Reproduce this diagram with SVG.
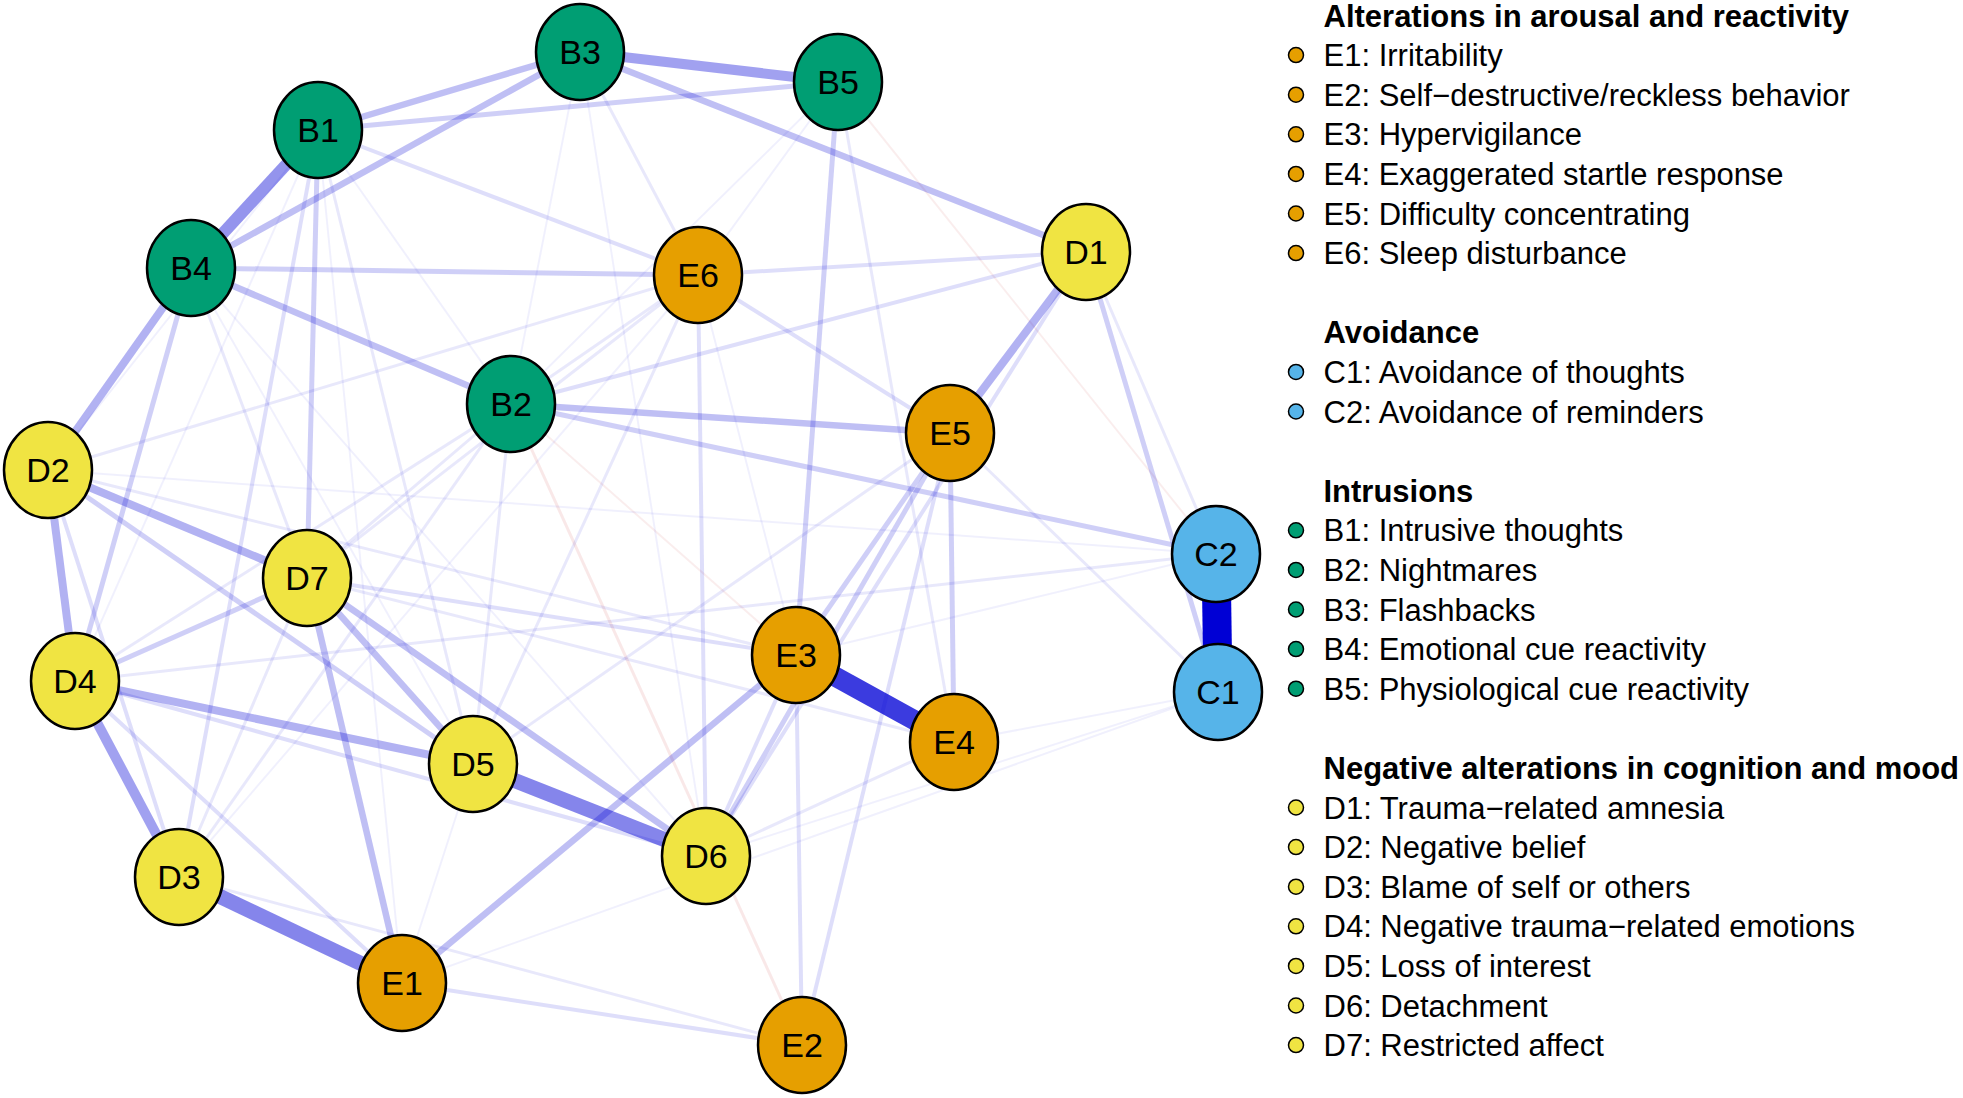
<svg xmlns="http://www.w3.org/2000/svg" width="1963" height="1098" viewBox="0 0 1963 1098">
<style>
.edges line{stroke:#0000D5;fill:none}
.edges line.n{stroke:#BF0000}
.e1{stroke-width:29;stroke-opacity:1}
.e2{stroke-width:20;stroke-opacity:.77}
.e3{stroke-width:15;stroke-opacity:.48}
.e4{stroke-width:12;stroke-opacity:.42}
.e5{stroke-width:10;stroke-opacity:.37}
.e6{stroke-width:8;stroke-opacity:.30}
.e7{stroke-width:6.5;stroke-opacity:.25}
.e8{stroke-width:5;stroke-opacity:.19}
.e9{stroke-width:4;stroke-opacity:.13}
.e10{stroke-width:3;stroke-opacity:.09}
.e11{stroke-width:2;stroke-opacity:.06}
.n1{stroke-width:3;stroke-opacity:.09}
.n2{stroke-width:2;stroke-opacity:.07}
.node ellipse{stroke:#000;stroke-width:2.5}
.node text{font-family:"Liberation Sans",Arial,sans-serif;font-size:34px;text-anchor:middle;fill:#000}
.B{fill:#009E73}.C{fill:#56B4E9}.D{fill:#F0E442}.E{fill:#E69F00}
.legend text{font-family:"Liberation Sans",Arial,sans-serif;font-size:31px;fill:#000}
.legend text.h{font-weight:bold}
.legend circle{stroke:#000;stroke-width:1.5}
</style>
<rect width="1963" height="1098" fill="#fff"/>
<g id="connectors" class="edges">
<line class="e11" x1="838" y1="82" x2="698" y2="275"/>
<line class="e11" x1="838" y1="82" x2="511" y2="404"/>
<line class="e11" x1="580" y1="52" x2="511" y2="404"/>
<line class="e11" x1="580" y1="52" x2="706" y2="856"/>
<line class="e11" x1="318" y1="130" x2="75" y2="681"/>
<line class="e11" x1="318" y1="130" x2="511" y2="404"/>
<line class="e11" x1="402" y1="983" x2="473" y2="764"/>
<line class="e11" x1="48" y1="470" x2="318" y2="130"/>
<line class="e11" x1="318" y1="130" x2="402" y2="983"/>
<line class="e11" x1="179" y1="877" x2="698" y2="275"/>
<line class="e11" x1="191" y1="268" x2="706" y2="856"/>
<line class="e11" x1="1216" y1="554" x2="796" y2="655"/>
<line class="e11" x1="1218" y1="692" x2="954" y2="742"/>
<line class="e11" x1="191" y1="268" x2="473" y2="764"/>
<line class="e11" x1="48" y1="470" x2="1216" y2="554"/>
<line class="e11" x1="698" y1="275" x2="796" y2="655"/>
<line class="e11" x1="1218" y1="692" x2="402" y2="983"/>
<line class="e11" x1="706" y1="856" x2="1218" y2="692"/>
<line class="n n2" x1="838" y1="82" x2="1216" y2="554"/>
<line class="n n2" x1="511" y1="404" x2="796" y2="655"/>
<line class="n n1" x1="511" y1="404" x2="802" y2="1045"/>
<line class="e10" x1="698" y1="275" x2="307" y2="578"/>
<line class="e10" x1="48" y1="470" x2="698" y2="275"/>
<line class="e10" x1="75" y1="681" x2="511" y2="404"/>
<line class="e10" x1="511" y1="404" x2="698" y2="275"/>
<line class="e10" x1="698" y1="275" x2="473" y2="764"/>
<line class="e10" x1="950" y1="433" x2="473" y2="764"/>
<line class="e10" x1="307" y1="578" x2="511" y2="404"/>
<line class="e10" x1="318" y1="130" x2="473" y2="764"/>
<line class="e10" x1="191" y1="268" x2="307" y2="578"/>
<line class="e10" x1="75" y1="681" x2="1216" y2="554"/>
<line class="e10" x1="511" y1="404" x2="473" y2="764"/>
<line class="e10" x1="580" y1="52" x2="698" y2="275"/>
<line class="e10" x1="950" y1="433" x2="1218" y2="692"/>
<line class="e10" x1="179" y1="877" x2="802" y2="1045"/>
<line class="e10" x1="307" y1="578" x2="954" y2="742"/>
<line class="e10" x1="954" y1="742" x2="706" y2="856"/>
<line class="e10" x1="1086" y1="252" x2="1216" y2="554"/>
<line class="e10" x1="838" y1="82" x2="954" y2="742"/>
<line class="e10" x1="48" y1="470" x2="796" y2="655"/>
<line class="e10" x1="179" y1="877" x2="307" y2="578"/>
<line class="e10" x1="179" y1="877" x2="511" y2="404"/>
<line class="e9" x1="796" y1="655" x2="706" y2="856"/>
<line class="e9" x1="402" y1="983" x2="802" y2="1045"/>
<line class="e9" x1="48" y1="470" x2="179" y2="877"/>
<line class="e9" x1="1086" y1="252" x2="706" y2="856"/>
<line class="e9" x1="796" y1="655" x2="802" y2="1045"/>
<line class="e9" x1="698" y1="275" x2="706" y2="856"/>
<line class="e9" x1="698" y1="275" x2="950" y2="433"/>
<line class="e9" x1="1086" y1="252" x2="698" y2="275"/>
<line class="e9" x1="950" y1="433" x2="802" y2="1045"/>
<line class="e9" x1="307" y1="578" x2="796" y2="655"/>
<line class="e9" x1="318" y1="130" x2="698" y2="275"/>
<line class="e9" x1="75" y1="681" x2="402" y2="983"/>
<line class="e9" x1="75" y1="681" x2="706" y2="856"/>
<line class="e9" x1="1086" y1="252" x2="511" y2="404"/>
<line class="e9" x1="179" y1="877" x2="318" y2="130"/>
<line class="e8" x1="318" y1="130" x2="838" y2="82"/>
<line class="e8" x1="191" y1="268" x2="698" y2="275"/>
<line class="e8" x1="191" y1="268" x2="75" y2="681"/>
<line class="e8" x1="318" y1="130" x2="307" y2="578"/>
<line class="e8" x1="48" y1="470" x2="473" y2="764"/>
<line class="e8" x1="796" y1="655" x2="950" y2="433"/>
<line class="e8" x1="950" y1="433" x2="706" y2="856"/>
<line class="e8" x1="511" y1="404" x2="1216" y2="554"/>
<line class="e8" x1="75" y1="681" x2="307" y2="578"/>
<line class="e8" x1="950" y1="433" x2="954" y2="742"/>
<line class="e8" x1="838" y1="82" x2="796" y2="655"/>
<line class="e8" x1="1086" y1="252" x2="1218" y2="692"/>
<line class="e7" x1="580" y1="52" x2="191" y2="268"/>
<line class="e7" x1="318" y1="130" x2="580" y2="52"/>
<line class="e7" x1="580" y1="52" x2="1086" y2="252"/>
<line class="e7" x1="511" y1="404" x2="950" y2="433"/>
<line class="e7" x1="191" y1="268" x2="511" y2="404"/>
<line class="e7" x1="307" y1="578" x2="706" y2="856"/>
<line class="e7" x1="307" y1="578" x2="473" y2="764"/>
<line class="e7" x1="307" y1="578" x2="402" y2="983"/>
<line class="e7" x1="402" y1="983" x2="796" y2="655"/>
<line class="e6" x1="48" y1="470" x2="75" y2="681"/>
<line class="e6" x1="48" y1="470" x2="307" y2="578"/>
<line class="e6" x1="1086" y1="252" x2="950" y2="433"/>
<line class="e6" x1="191" y1="268" x2="48" y2="470"/>
<line class="e6" x1="75" y1="681" x2="473" y2="764"/>
<line class="e5" x1="580" y1="52" x2="838" y2="82"/>
<line class="e5" x1="75" y1="681" x2="179" y2="877"/>
<line class="e4" x1="318" y1="130" x2="191" y2="268"/>
<line class="e3" x1="473" y1="764" x2="706" y2="856"/>
<line class="e3" x1="179" y1="877" x2="402" y2="983"/>
<line class="e2" x1="796" y1="655" x2="954" y2="742"/>
<line class="e1" x1="1218" y1="692" x2="1216" y2="554"/>
</g>
<g id="nodes">
<g id="node-B1" class="node"><ellipse class="B" cx="318" cy="130" rx="44" ry="48"/><text x="318" y="142">B1</text></g>
<g id="node-B2" class="node"><ellipse class="B" cx="511" cy="404" rx="44" ry="48"/><text x="511" y="416">B2</text></g>
<g id="node-B3" class="node"><ellipse class="B" cx="580" cy="52" rx="44" ry="48"/><text x="580" y="64">B3</text></g>
<g id="node-B4" class="node"><ellipse class="B" cx="191" cy="268" rx="44" ry="48"/><text x="191" y="280">B4</text></g>
<g id="node-B5" class="node"><ellipse class="B" cx="838" cy="82" rx="44" ry="48"/><text x="838" y="94">B5</text></g>
<g id="node-C1" class="node"><ellipse class="C" cx="1218" cy="692" rx="44" ry="48"/><text x="1218" y="704">C1</text></g>
<g id="node-C2" class="node"><ellipse class="C" cx="1216" cy="554" rx="44" ry="48"/><text x="1216" y="566">C2</text></g>
<g id="node-D1" class="node"><ellipse class="D" cx="1086" cy="252" rx="44" ry="48"/><text x="1086" y="264">D1</text></g>
<g id="node-D2" class="node"><ellipse class="D" cx="48" cy="470" rx="44" ry="48"/><text x="48" y="482">D2</text></g>
<g id="node-D3" class="node"><ellipse class="D" cx="179" cy="877" rx="44" ry="48"/><text x="179" y="889">D3</text></g>
<g id="node-D4" class="node"><ellipse class="D" cx="75" cy="681" rx="44" ry="48"/><text x="75" y="693">D4</text></g>
<g id="node-D5" class="node"><ellipse class="D" cx="473" cy="764" rx="44" ry="48"/><text x="473" y="776">D5</text></g>
<g id="node-D6" class="node"><ellipse class="D" cx="706" cy="856" rx="44" ry="48"/><text x="706" y="868">D6</text></g>
<g id="node-D7" class="node"><ellipse class="D" cx="307" cy="578" rx="44" ry="48"/><text x="307" y="590">D7</text></g>
<g id="node-E1" class="node"><ellipse class="E" cx="402" cy="983" rx="44" ry="48"/><text x="402" y="995">E1</text></g>
<g id="node-E2" class="node"><ellipse class="E" cx="802" cy="1045" rx="44" ry="48"/><text x="802" y="1057">E2</text></g>
<g id="node-E3" class="node"><ellipse class="E" cx="796" cy="655" rx="44" ry="48"/><text x="796" y="667">E3</text></g>
<g id="node-E4" class="node"><ellipse class="E" cx="954" cy="742" rx="44" ry="48"/><text x="954" y="754">E4</text></g>
<g id="node-E5" class="node"><ellipse class="E" cx="950" cy="433" rx="44" ry="48"/><text x="950" y="445">E5</text></g>
<g id="node-E6" class="node"><ellipse class="E" cx="698" cy="275" rx="44" ry="48"/><text x="698" y="287">E6</text></g>
</g>
<g id="legend" class="legend">
<text class="h" x="1323.5" y="26.5">Alterations in arousal and reactivity</text>
<circle class="E" cx="1296" cy="55.1" r="7.5"/><text x="1323.5" y="66.1">E1: Irritability</text>
<circle class="E" cx="1296" cy="94.7" r="7.5"/><text x="1323.5" y="105.7">E2: Self−destructive/reckless behavior</text>
<circle class="E" cx="1296" cy="134.3" r="7.5"/><text x="1323.5" y="145.3">E3: Hypervigilance</text>
<circle class="E" cx="1296" cy="173.9" r="7.5"/><text x="1323.5" y="184.9">E4: Exaggerated startle response</text>
<circle class="E" cx="1296" cy="213.5" r="7.5"/><text x="1323.5" y="224.5">E5: Difficulty concentrating</text>
<circle class="E" cx="1296" cy="253.1" r="7.5"/><text x="1323.5" y="264.1">E6: Sleep disturbance</text>
<text class="h" x="1323.5" y="343.3">Avoidance</text>
<circle class="C" cx="1296" cy="371.9" r="7.5"/><text x="1323.5" y="382.9">C1: Avoidance of thoughts</text>
<circle class="C" cx="1296" cy="411.5" r="7.5"/><text x="1323.5" y="422.5">C2: Avoidance of reminders</text>
<text class="h" x="1323.5" y="501.7">Intrusions</text>
<circle class="B" cx="1296" cy="530.3" r="7.5"/><text x="1323.5" y="541.3">B1: Intrusive thoughts</text>
<circle class="B" cx="1296" cy="569.9" r="7.5"/><text x="1323.5" y="580.9">B2: Nightmares</text>
<circle class="B" cx="1296" cy="609.5" r="7.5"/><text x="1323.5" y="620.5">B3: Flashbacks</text>
<circle class="B" cx="1296" cy="649.1" r="7.5"/><text x="1323.5" y="660.1">B4: Emotional cue reactivity</text>
<circle class="B" cx="1296" cy="688.7" r="7.5"/><text x="1323.5" y="699.7">B5: Physiological cue reactivity</text>
<text class="h" x="1323.5" y="778.9">Negative alterations in cognition and mood</text>
<circle class="D" cx="1296" cy="807.5" r="7.5"/><text x="1323.5" y="818.5">D1: Trauma−related amnesia</text>
<circle class="D" cx="1296" cy="847.1" r="7.5"/><text x="1323.5" y="858.1">D2: Negative belief</text>
<circle class="D" cx="1296" cy="886.7" r="7.5"/><text x="1323.5" y="897.7">D3: Blame of self or others</text>
<circle class="D" cx="1296" cy="926.3" r="7.5"/><text x="1323.5" y="937.3">D4: Negative trauma−related emotions</text>
<circle class="D" cx="1296" cy="965.9" r="7.5"/><text x="1323.5" y="976.9">D5: Loss of interest</text>
<circle class="D" cx="1296" cy="1005.5" r="7.5"/><text x="1323.5" y="1016.5">D6: Detachment</text>
<circle class="D" cx="1296" cy="1045.1" r="7.5"/><text x="1323.5" y="1056.1">D7: Restricted affect</text>
</g>
</svg>
